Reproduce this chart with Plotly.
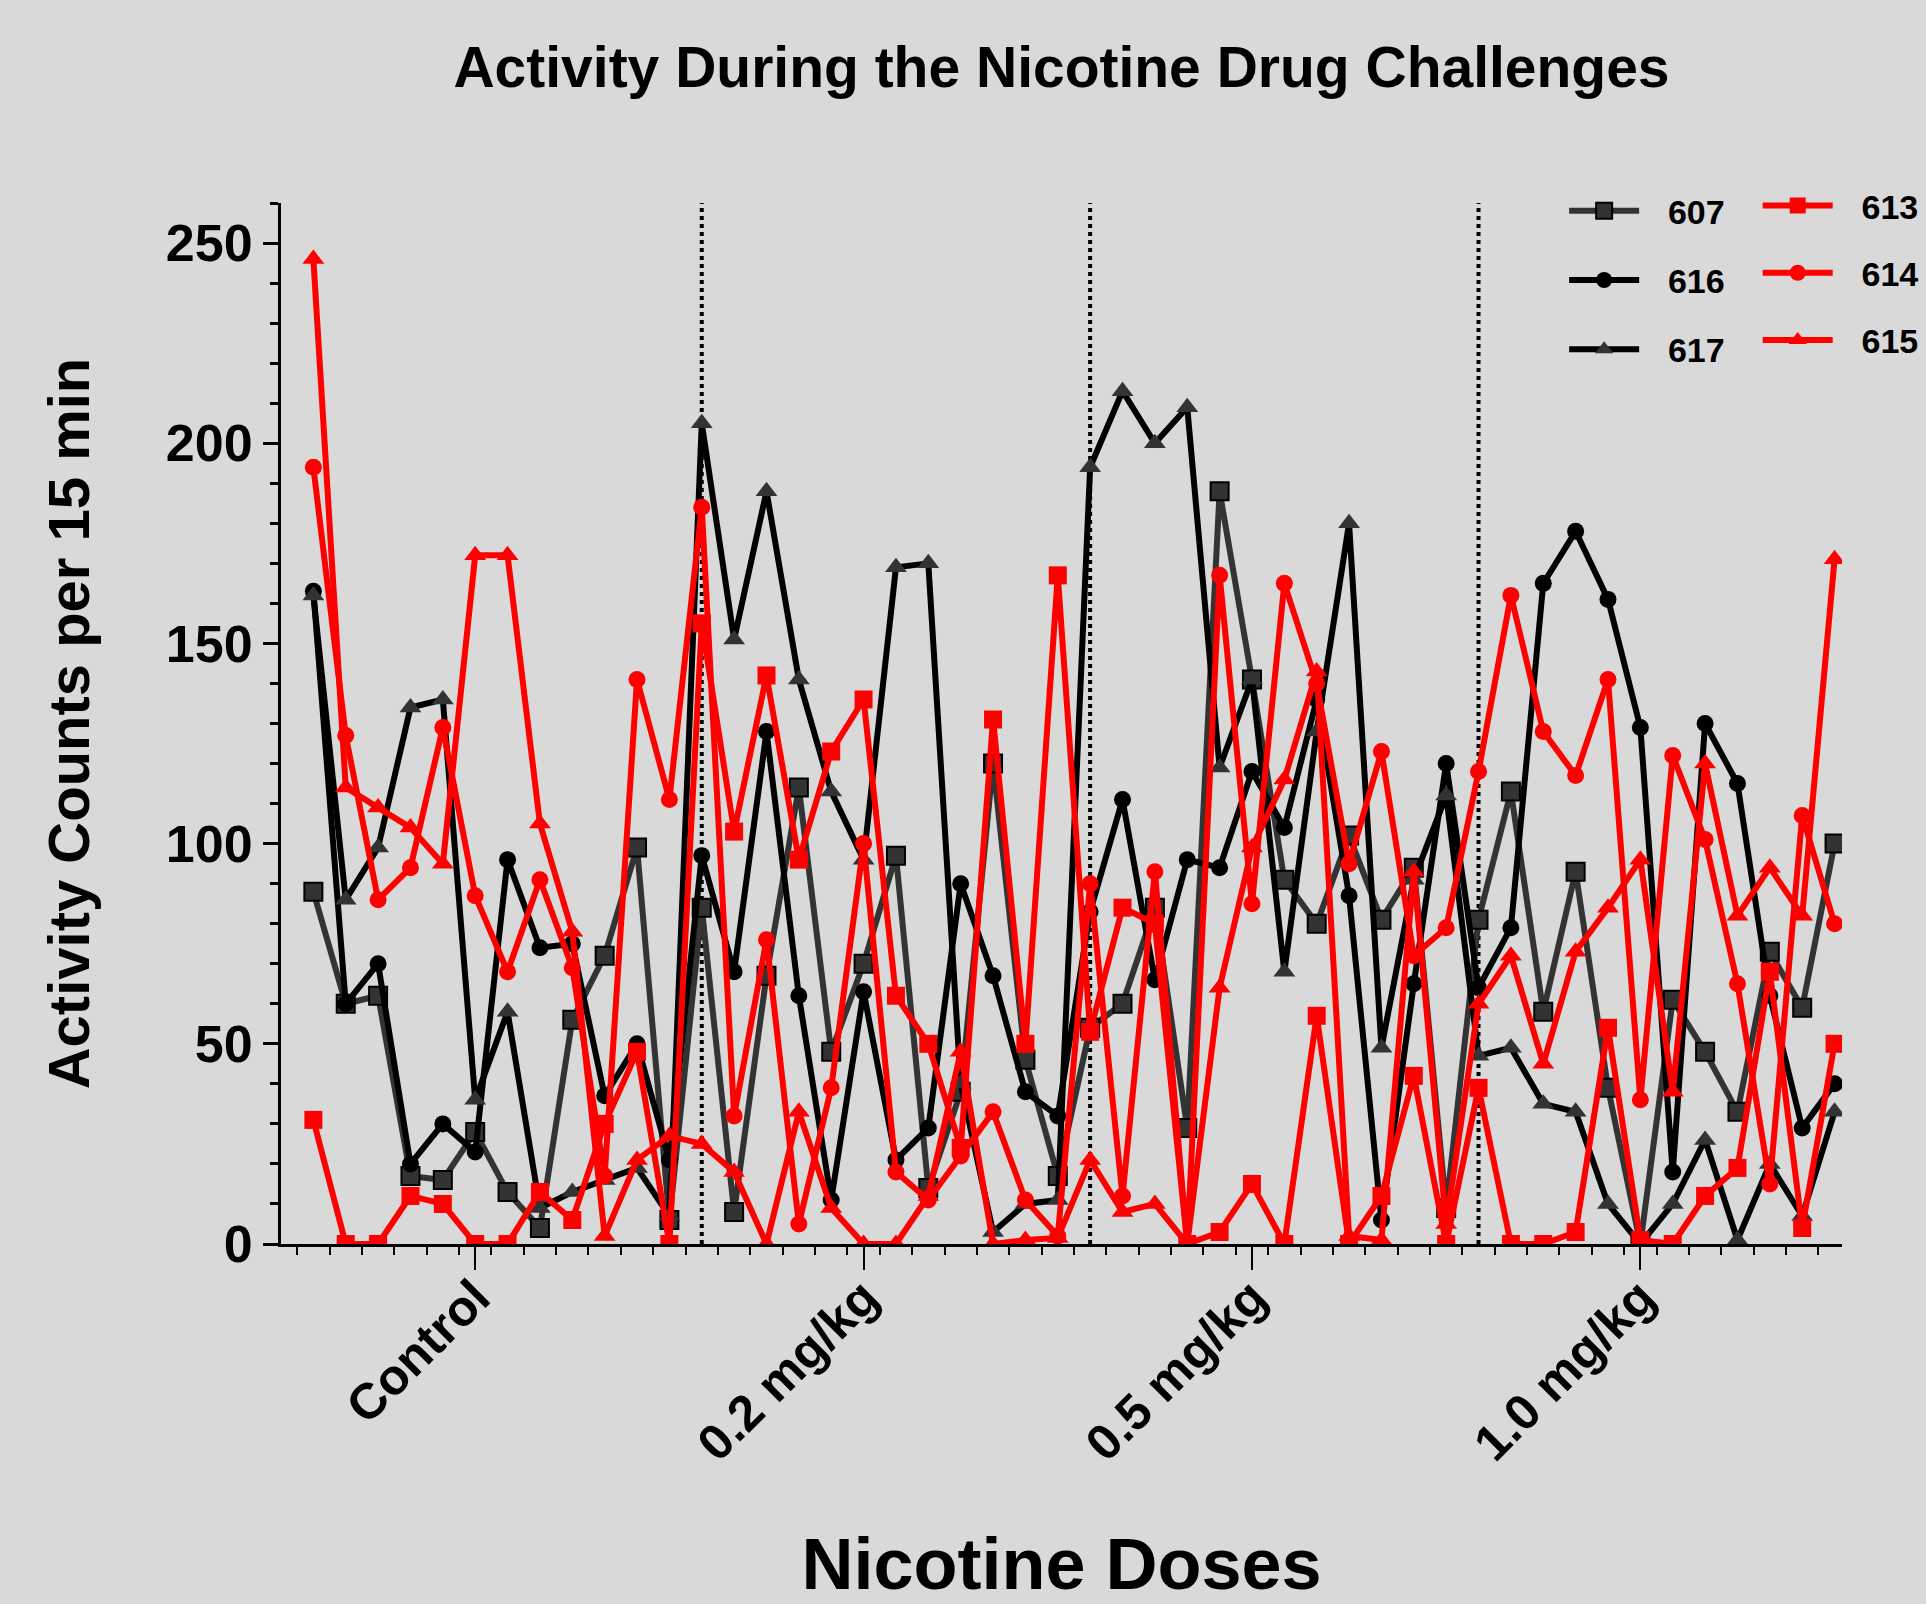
import plotly.graph_objects as go

# x positions: 12 time bins per dose session, 48 in total
x_pos = list(range(1, 49))
tick_vals = [6, 18, 30, 42]
tick_text = ["Control", "0.2 mg/kg", "0.5 mg/kg", "1.0 mg/kg"]
session_starts = [13, 25, 37]

a607 = [88, 60, 62, 17, 16, 28, 13, 4, 56, 72, 99, 6,
        84, 8, 67, 114, 48, 70, 97, 14, 38, 120, 46, 17,
        54, 60, 84, 29, 188, 141, 91, 80, 102, 81, 94, 9,
        81, 113, 58, 93, 39, 0, 61, 48, 33, 73, 59, 100]
a616 = [163, 60, 70, 20, 30, 23, 96, 74, 75, 37, 50, 21,
        97, 68, 128, 62, 11, 63, 21, 29, 90, 67, 38, 32,
        83, 111, 66, 96, 94, 118, 104, 136, 87, 6, 65, 120,
        64, 79, 165, 178, 161, 129, 18, 130, 115, 62, 29, 40]
a617 = [162, 86, 99, 134, 136, 36, 58, 9, 13, 16, 19, 7,
        205, 151, 188, 141, 113, 96, 169, 170, 40, 3, 10, 11,
        194, 213, 200, 209, 119, 141, 68, 128, 180, 49, 91, 112,
        47, 49, 35, 33, 10, 0, 10, 26, 1, 20, 7, 33]
a613 = [31, 0, 0, 12, 10, 0, 0, 13, 6, 30, 48, 0,
        155, 103, 142, 96, 123, 136, 62, 50, 24, 131, 50, 167,
        53, 84, 80, 0, 3, 15, 0, 57, 0, 12, 42, 0,
        39, 0, 0, 3, 54, 1, 0, 12, 19, 68, 4, 50]
a614 = [194, 127, 86, 94, 129, 87, 68, 91, 69, 17, 141, 111,
        184, 32, 76, 5, 39, 100, 18, 11, 22, 33, 11, 2,
        90, 12, 93, 0, 167, 85, 165, 140, 95, 123, 72, 79,
        118, 162, 128, 117, 141, 36, 122, 101, 65, 15, 107, 80]
a615 = [246, 114, 109, 104, 95, 172, 172, 105, 78, 2, 21, 27,
        25, 18, 0, 33, 9, 0, 0, 12, 48, 0, 1, 1.5,
        21, 8, 10, 0, 64, 99, 116, 143, 2, 1, 93, 5,
        60, 72, 45, 73, 84, 96, 38, 120, 82, 94, 82, 171]

FONT = "Liberation Sans, Arial, sans-serif"
GAP = "\u2002\u2009"  # spacing between legend symbol and label

series = [
    # name, values, line color, symbol, size, marker fill, marker outline, outline width, legend
    ("607", a607, "#333333", "square", 18, "#333333", "black", 2, "legend"),
    ("616", a616, "black", "circle", 17, "black", "black", 0, "legend"),
    ("617", a617, "black", "triangle-up", 19, "#333333", "#333333", 0, "legend"),
    ("613", a613, "#ff0000", "square", 18, "#ff0000", "#ff0000", 0, "legend2"),
    ("614", a614, "#ff0000", "circle", 17, "#ff0000", "#ff0000", 0, "legend2"),
    ("615", a615, "#ff0000", "triangle-up", 19, "#ff0000", "#ff0000", 0, "legend2"),
]

fig = go.Figure()
for name, vals, lc, sym, msize, mfill, mline, mlw, leg in series:
    fig.add_trace(go.Scatter(
        x=x_pos, y=vals, name=GAP + name, mode="lines+markers",
        line=dict(color=lc, width=6),
        marker=dict(symbol=sym, size=msize, color=mfill,
                    line=dict(color=mline, width=mlw)),
        legend=leg, legendgroup=name,
    ))

for xs in session_starts:
    fig.add_vline(x=xs, line=dict(color="black", width=4, dash="dot"), layer="below")

fig.update_layout(
    width=1926, height=1604, autosize=False,
    paper_bgcolor="#d9d9d9", plot_bgcolor="#d9d9d9",
    margin=dict(l=281, r=84, t=203, b=360, autoexpand=False),
    font=dict(family=FONT, color="black"),
    title=dict(text="Activity During the Nicotine Drug Challenges",
               font=dict(family=FONT, size=57, weight="bold", color="black"),
               x=0.5, xref="paper", xanchor="center",
               y=1 - 67 / 1604, yref="container", yanchor="middle"),
    legend=dict(x=0.822, y=1.02, xanchor="left", yanchor="top",
                bgcolor="rgba(0,0,0,0)", font=dict(size=34, weight="bold"),
                tracegroupgap=22, itemwidth=70),
    legend2=dict(x=0.946, y=1.025, xanchor="left", yanchor="top",
                 bgcolor="rgba(0,0,0,0)", font=dict(size=34, weight="bold"),
                 tracegroupgap=20, itemwidth=70),
    showlegend=True,
)

fig.update_xaxes(
    range=[0, 48.23], showgrid=False, zeroline=False, automargin=False,
    showline=True, linecolor="black", linewidth=3,
    tickmode="array", tickvals=tick_vals, ticktext=tick_text,
    ticks="outside", ticklen=23, tickwidth=2, tickcolor="black",
    tickangle=-45, ticklabelstandoff=-22,
    tickfont=dict(family=FONT, size=50, weight="bold", color="black"),
    minor=dict(tickmode="linear", tick0=0.5, dtick=1, ticks="outside",
               ticklen=8, tickwidth=2, tickcolor="black", showgrid=False),
    title=dict(text="Nicotine Doses", standoff=85,
               font=dict(family=FONT, size=72, weight="bold", color="black")),
)
fig.update_yaxes(
    range=[0, 260], showgrid=False, zeroline=False, automargin=False,
    showline=True, linecolor="black", linewidth=3,
    tickmode="array", tickvals=[0, 50, 100, 150, 200, 250],
    ticks="outside", ticklen=15, tickwidth=3, tickcolor="black",
    tickfont=dict(family=FONT, size=52, weight="bold", color="black"),
    minor=dict(tickmode="linear", tick0=0, dtick=10, ticks="outside",
               ticklen=8, tickwidth=3, tickcolor="black", showgrid=False),
    title=dict(text="Activity Counts per 15 min", standoff=58,
               font=dict(family=FONT, size=58, weight="bold", color="black")),
)

fig.write_html(
    "out.html",
    config={"displayModeBar": False},
    post_script="document.body.style.margin='0';document.body.style.background='#d9d9d9';",
)
